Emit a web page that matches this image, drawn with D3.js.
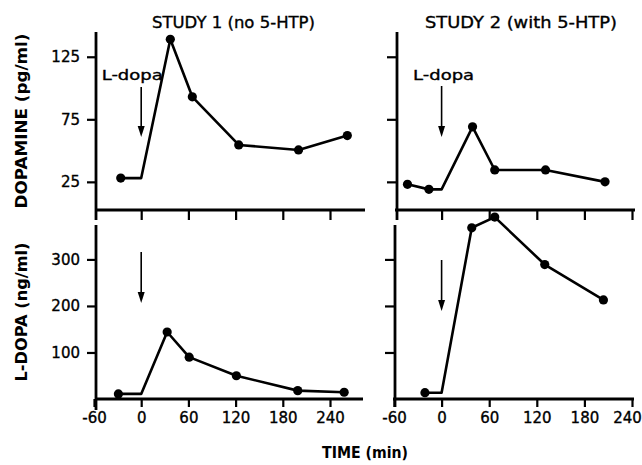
<!DOCTYPE html>
<html>
<head>
<meta charset="utf-8">
<script src="https://cdn.jsdelivr.net/npm/d3@7"></script>
<style>
  html, body { margin: 0; padding: 0; background: #fff; }
  svg { display: block; }
  text { font-family: "DejaVu Sans", sans-serif; fill: #000; }
</style>
</head>
<body>
<svg id="chart" width="642" height="465"></svg>
<script>
// ---------- data ----------
const timeTicks = [-60, 0, 60, 120, 180, 240];
const dopTicks = [25, 75, 125];
const ldopaTicks = [100, 200, 300];
const doseTime = 0;

// Study 1 (no 5-HTP) – plasma dopamine (pg/ml)
const s1DopTime = [-26, 37, 65, 124, 200, 262];
const s1DopVal  = [28, 139, 93, 54.5, 50.5, 62];
// Study 2 (with 5-HTP) – plasma dopamine (pg/ml)
const s2DopTime = [-43, -16, 39, 67, 131, 206];
const s2DopVal  = [23, 19, 69, 34.5, 34.5, 25];
// Study 1 – plasma L-dopa (ng/ml)
const s1LdTime = [-29, 33, 61, 121, 199, 258];
const s1LdVal  = [11, 144, 90, 50, 18, 14.5];
// Study 2 – plasma L-dopa (ng/ml)
const s2LdTime = [-21, 38, 67, 130, 204];
const s2LdVal  = [13.5, 368, 391, 289, 213];

const titles = ["STUDY 1 (no 5-HTP)", "STUDY 2 (with 5-HTP)"];
const yLabels = ["DOPAMINE (pg/ml)", "L-DOPA (ng/ml)"];
const xLabel = "TIME (min)";
const doseLabel = "L-dopa";

// ---------- scales ----------
const svg = d3.select("#chart");
const xLeft  = d3.scaleLinear().domain([-60, 240]).range([94, 330]);
const xRight = d3.scaleLinear().domain([-60, 240]).range([394, 632]);
const yDop = d3.scaleLinear().domain([2.5, 144]).range([210, 33]);
const yLd  = d3.scaleLinear().domain([0, 374]).range([399, 225]);

const panels = [
  {x: xLeft,  y: yDop, t: s1DopTime, v: s1DopVal, top: true,  left: true,  axX: 96,  xEnd: 365, ax0: 32, ax1: 220, arrow: [87, 137], lab: true},
  {x: xRight, y: yDop, t: s2DopTime, v: s2DopVal, top: true,  left: false, axX: 397, xEnd: 635, ax0: 32, ax1: 220, arrow: [86, 137], lab: true},
  {x: xLeft,  y: yLd,  t: s1LdTime,  v: s1LdVal,  top: false, left: true,  axX: 96,  xEnd: 363, ax0: 225, ax1: 410, arrow: [252, 303], lab: false},
  {x: xRight, y: yLd,  t: s2LdTime,  v: s2LdVal,  top: false, left: false, axX: 395, xEnd: 634, ax0: 225, ax1: 407, arrow: [260, 311], lab: false}
];

function styleText(sel) {
  sel.attr("font-size", 15).attr("stroke", "#000").attr("stroke-width", 0.35);
}

panels.forEach((p, i) => {
  const g = svg.append("g");
  const yBase = p.y.range()[0];
  const ticksY = p.top ? dopTicks : ldopaTicks;

  // y axis ticks
  const ya = d3.axisLeft(p.y).tickValues(ticksY).tickSize(p.left ? 9 : 10).tickPadding(7)
    .tickFormat(p.left ? (d => String(d)) : () => "");
  const yg = g.append("g").attr("transform", `translate(${p.axX},0)`).call(ya);
  yg.select(".domain").remove();
  yg.selectAll("line").attr("stroke", "#000").attr("stroke-width", 2.2);
  styleText(yg.selectAll("text"));

  // x axis ticks
  const xa = d3.axisBottom(p.x).tickValues(p.top ? timeTicks.slice(1) : timeTicks)
    .tickSize(p.top ? 10 : 8).tickPadding(5.5)
    .tickFormat(p.top ? () => "" : (d => String(d)));
  const xg = g.append("g").attr("transform", `translate(0,${yBase})`).call(xa);
  xg.select(".domain").remove();
  xg.selectAll("line").attr("stroke", "#000").attr("stroke-width", 2.2);
  styleText(xg.selectAll("text"));
  if (!p.top && !p.left) {
    // keep the last label inside the picture, as in the reference
    xg.selectAll("text").filter(d => d === timeTicks[timeTicks.length - 1]).attr("dx", -5);
  }

  // axis lines
  g.append("line").attr("x1", p.axX).attr("x2", p.axX).attr("y1", p.ax0).attr("y2", p.ax1)
    .attr("stroke", "#000").attr("stroke-width", 2.8);
  g.append("line").attr("x1", p.axX - (p.left ? 0 : 2)).attr("x2", p.xEnd).attr("y1", yBase).attr("y2", yBase)
    .attr("stroke", "#000").attr("stroke-width", 2.8);

  // data: pre-dose level carried to dose time, then rise
  const pts = p.t.map((t, k) => ({t, v: p.v[k]}));
  const pre = pts.filter(d => d.t < doseTime);
  const post = pts.filter(d => d.t >= doseTime);
  const linePts = pre.concat([{t: doseTime, v: pre[pre.length - 1].v}], post);
  const line = d3.line().x(d => p.x(d.t)).y(d => p.y(d.v));
  g.append("path").attr("d", line(linePts)).attr("fill", "none")
    .attr("stroke", "#000").attr("stroke-width", 2.6).attr("stroke-linejoin", "round");
  g.selectAll("circle").data(pts).join("circle")
    .attr("cx", d => p.x(d.t)).attr("cy", d => p.y(d.v)).attr("r", 4.6).attr("fill", "#000");

  // dose arrow
  const ax = p.x(doseTime);
  const [a0, a1] = p.arrow;
  g.append("line").attr("x1", ax).attr("x2", ax).attr("y1", a0).attr("y2", a1 - 9)
    .attr("stroke", "#000").attr("stroke-width", 1.6);
  g.append("path").attr("d", `M${ax - 3.5},${a1 - 11}L${ax + 3.5},${a1 - 11}L${ax},${a1}Z`).attr("fill", "#000");
  if (p.lab) {
    g.append("text").attr("x", ax - (p.left ? 9 : -2)).attr("y", 79.5).attr("text-anchor", "middle")
      .attr("font-size", 14).attr("stroke", "#000").attr("stroke-width", 0.35)
      .attr("textLength", 61).attr("lengthAdjust", "spacingAndGlyphs")
      .text(doseLabel);
  }
});

// titles
const titlePos = [[233.5, 163], [521, 192]];
titles.forEach((t, i) => {
  svg.append("text").attr("x", titlePos[i][0]).attr("y", 27.5).attr("text-anchor", "middle")
    .attr("font-size", 15.5).attr("stroke", "#000").attr("stroke-width", 0.35)
    .attr("textLength", titlePos[i][1]).attr("lengthAdjust", "spacingAndGlyphs")
    .text(t);
});

// y labels
const yLabPos = [[26.5, 121, 175], [27, 312, 139]];
yLabels.forEach((t, i) => {
  const [x, y, len] = yLabPos[i];
  svg.append("text").attr("transform", `translate(${x},${y}) rotate(-90)`).attr("text-anchor", "middle")
    .attr("font-size", 15.5).attr("font-weight", "bold")
    .attr("textLength", len).attr("lengthAdjust", "spacingAndGlyphs").text(t);
});

// x label
svg.append("text").attr("x", 365).attr("y", 458).attr("text-anchor", "middle")
  .attr("font-size", 16).attr("font-weight", "bold")
  .attr("textLength", 86).attr("lengthAdjust", "spacingAndGlyphs").text(xLabel);
</script>
</body>
</html>
